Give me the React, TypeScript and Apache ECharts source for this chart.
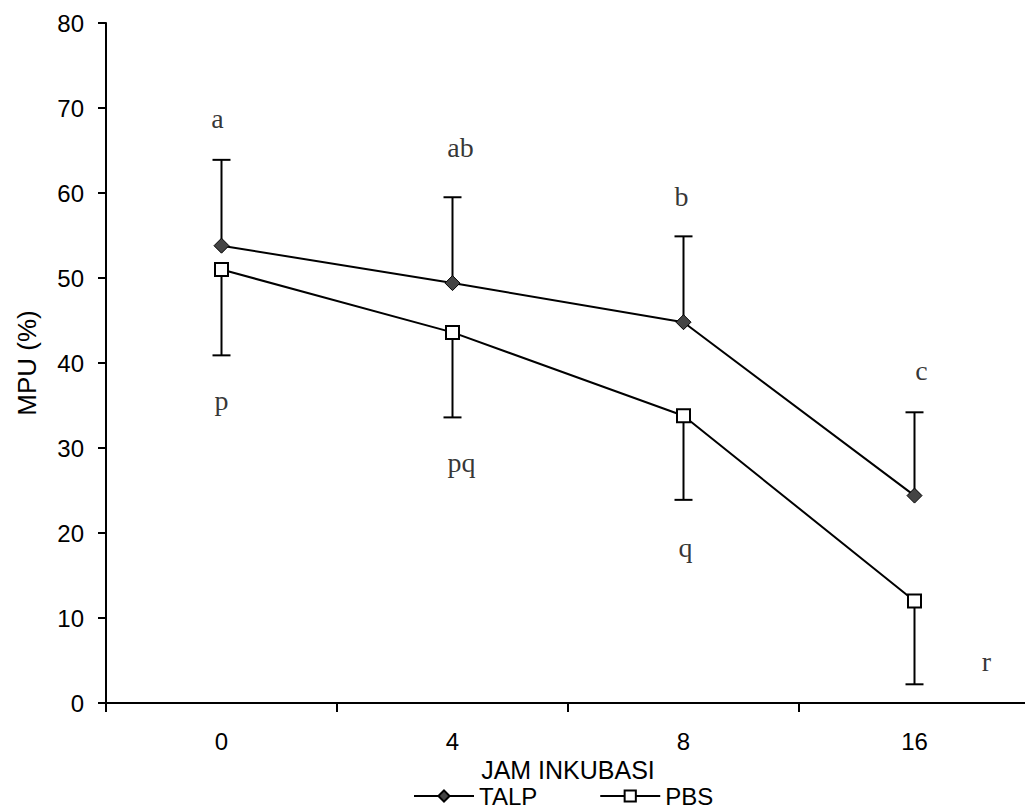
import React, { useEffect, useRef } from "react";
import * as echarts from "echarts";

// ---- data ----
const categories = ["0", "4", "8", "16"];
const talpMean = [53.8, 49.4, 44.8, 24.4];
const talpUpper = [63.9, 59.5, 54.9, 34.2];
const pbsMean = [51.0, 43.6, 33.8, 12.0];
const pbsLower = [40.9, 33.6, 23.9, 2.2];
const letterText = ["a", "p", "ab", "pq", "b", "q", "c", "r"];
const letterCat = [0, 0, 1, 1, 2, 2, 3, 3];
const letterY = [68.8, 35.6, 65.3, 28.3, 59.6, 18.3, 39.1, 4.9];
const yTicks = { min: 0, max: 80, interval: 10 };

// label offsets in pixels (styling)
const letterDx = [-4, 0, 8, 9, -2, 2, 7, 72];

const SANS = "'Liberation Sans', Arial, sans-serif";
const SERIF = "'Liberation Serif', 'Times New Roman', serif";

function errorBarSeries(name: string, means: number[], ends: number[]) {
  return {
    type: "custom",
    name: name + "-err",
    z: 1,
    silent: true,
    data: means.map((m, i) => [i, m, ends[i]]),
    renderItem: (params: any, api: any) => {
      const x = api.value(0);
      const p1 = api.coord([x, api.value(1)]);
      const p2 = api.coord([x, api.value(2)]);
      const hw = 9;
      const style = { stroke: "#000", lineWidth: 2 };
      return {
        type: "group",
        children: [
          { type: "line", shape: { x1: p1[0], y1: p1[1], x2: p2[0], y2: p2[1] }, style },
          { type: "line", shape: { x1: p2[0] - hw, y1: p2[1], x2: p2[0] + hw, y2: p2[1] }, style },
        ],
      };
    },
  };
}

export default function App() {
  const ref = useRef<HTMLDivElement>(null);
  useEffect(() => {
    if (!ref.current) return;
    const chart = echarts.init(ref.current, undefined, { renderer: "svg" });
    const option: any = {
      animation: false,
      backgroundColor: "#fff",
      grid: { left: 106, top: 23, width: 924, height: 680, containLabel: false },
      legend: {
        left: 413,
        top: 784,
        padding: 0,
        itemWidth: 60,
        itemHeight: 14,
        itemGap: 62,
        textStyle: { fontFamily: SANS, fontSize: 24, color: "#000" },
        data: ["TALP", "PBS"],
      },
      xAxis: {
        type: "category",
        data: categories,
        boundaryGap: true,
        name: "JAM INKUBASI",
        nameLocation: "middle",
        nameGap: 40,
        nameTextStyle: { fontFamily: SANS, fontSize: 25, color: "#000" },
        axisLine: { lineStyle: { color: "#000", width: 2 } },
        axisTick: { show: true, length: 9, lineStyle: { color: "#000", width: 2 } },
        axisLabel: { fontFamily: SANS, fontSize: 24, color: "#000", margin: 26 },
        splitLine: { show: false },
      },
      yAxis: {
        type: "value",
        min: yTicks.min,
        max: yTicks.max,
        interval: yTicks.interval,
        name: "MPU (%)",
        nameLocation: "middle",
        nameGap: 66,
        nameTextStyle: { fontFamily: SANS, fontSize: 26, color: "#000" },
        axisLine: { show: true, lineStyle: { color: "#000", width: 2 } },
        axisTick: { show: true, length: 8, lineStyle: { color: "#000", width: 2 } },
        axisLabel: { fontFamily: SANS, fontSize: 24, color: "#000", margin: 22 },
        splitLine: { show: false },
      },
      series: [
        errorBarSeries("TALP", talpMean, talpUpper),
        errorBarSeries("PBS", pbsMean, pbsLower),
        {
          type: "line",
          name: "TALP",
          z: 3,
          data: talpMean,
          symbol: "diamond",
          symbolSize: 15,
          lineStyle: { color: "#000", width: 2 },
          itemStyle: { color: "#444", borderColor: "#000", borderWidth: 1 },
        },
        {
          type: "line",
          name: "PBS",
          z: 3,
          data: pbsMean,
          symbol: "rect",
          symbolSize: 13,
          lineStyle: { color: "#000", width: 2 },
          itemStyle: { color: "#fff", borderColor: "#000", borderWidth: 2 },
        },
        {
          type: "scatter",
          name: "letters",
          silent: true,
          symbolSize: 1,
          itemStyle: { color: "rgba(0,0,0,0)" },
          data: letterText.map((t, i) => ({
            value: [letterCat[i], letterY[i]],
            label: {
              show: true,
              formatter: t,
              position: "inside",
              offset: [letterDx[i], 0],
              fontFamily: SERIF,
              fontSize: 28,
              color: "#000",
            },
          })),
        },
      ],
    };
    chart.setOption(option);
    return () => chart.dispose();
  }, []);
  return (
    <div
      style={{
        position: "fixed",
        left: 0,
        top: 0,
        width: 1025,
        height: 810,
        overflow: "hidden",
        background: "#fff",
      }}
    >
      <div ref={ref} style={{ width: 1045, height: 810 }} />
    </div>
  );
}
